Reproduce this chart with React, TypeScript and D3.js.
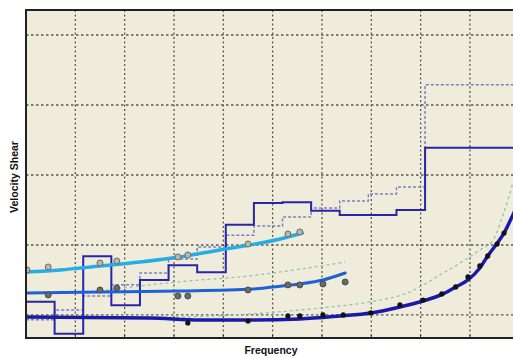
import React from "react";
import * as d3 from "d3";

// Bin edges (frequency units) shared by both step series
const binEdges = [0, 0.58, 1.16, 1.73, 2.31, 2.89, 3.47, 4.05, 4.62, 5.2, 5.78, 6.36, 6.94, 7.51, 8.09, 10.4];
const stepSolid = [1.19, 0.73, 1.84, 1.14, 1.5, 1.71, 1.61, 2.29, 2.6, 2.61, 2.49, 2.43, 2.43, 2.5, 3.39];
const stepDashed = [0.93, 1.07, 1.27, 1.43, 1.6, 1.8, 1.97, 2.14, 2.27, 2.4, 2.53, 2.63, 2.73, 2.83, 4.29];

const cyanX = [0, 0.69, 1.5, 2.31, 3.12, 3.93, 4.54, 5.15, 5.6];
const cyanY = [1.614, 1.643, 1.7, 1.757, 1.829, 1.929, 2.0, 2.086, 2.171];
const cyanPtX = [0.02, 0.45, 1.5, 1.84, 3.08, 3.28, 4.5, 5.31, 5.55];
const cyanPtY = [1.643, 1.686, 1.743, 1.771, 1.829, 1.857, 2.014, 2.157, 2.186];

const midX = [0, 1.5, 3.12, 4.6, 5.0, 5.55, 6.02, 6.47];
const midY = [1.314, 1.329, 1.343, 1.371, 1.4, 1.443, 1.5, 1.6];
const midPtX = [0.45, 1.5, 1.84, 3.08, 3.28, 4.5, 5.31, 5.55, 6.02, 6.47];
const midPtY = [1.286, 1.357, 1.386, 1.271, 1.271, 1.357, 1.429, 1.429, 1.443, 1.471];

const darkX = [0, 2.51, 3.53, 4.54, 5.55, 6.36, 6.99, 7.58, 8.05, 8.41, 8.71, 8.96, 9.2, 9.36, 9.57, 9.69, 9.87, 10.1];
const darkY = [0.971, 0.957, 0.929, 0.929, 0.943, 0.986, 1.029, 1.114, 1.2, 1.286, 1.4, 1.5, 1.671, 1.843, 2.043, 2.171, 2.429, 2.8];
const darkPtX = [3.28, 4.5, 5.31, 5.55, 6.02, 6.43, 6.99, 7.58, 8.05, 8.43, 8.71, 8.96, 9.2, 9.36, 9.55, 9.69];
const darkPtY = [0.886, 0.914, 0.986, 0.986, 1.0, 1.0, 1.029, 1.143, 1.214, 1.3, 1.4, 1.543, 1.7, 1.843, 2.014, 2.171];

const greenUpX = [1.5, 2.31, 3.53, 4.34, 5.15, 6.47];
const greenUpY = [1.343, 1.414, 1.5, 1.543, 1.614, 1.757];
const greenLowX = [2.31, 4.54, 6.16, 6.97, 7.78, 8.39, 8.8, 9.2, 9.47, 9.67, 9.87];
const greenLowY = [0.957, 1.014, 1.114, 1.186, 1.329, 1.571, 1.743, 1.929, 2.071, 2.429, 2.886];

const xGrid = [1, 2, 3, 4, 5, 6, 7, 8, 9];
const yGrid = [1, 2, 3, 4, 5];

const W = 513;
const H = 358;
const L = 26, T = 10, B = 338;

export default function App() {
  const x = d3.scaleLinear().domain([0, 10]).range([L, 519.3]);
  const y = d3.scaleLinear().domain([0.671, 5.357]).range([B, T]);

  const line = d3.line<[number, number]>().x(d => x(d[0])).y(d => y(d[1])).curve(d3.curveMonotoneX);
  const step = d3.line<[number, number]>().x(d => x(d[0])).y(d => y(d[1])).curve(d3.curveStepAfter);

  const zip = (a: number[], b: number[]) => a.map((v, i) => [v, b[i]] as [number, number]);
  const stepPts = (vals: number[]) => {
    const pts = vals.map((v, i) => [binEdges[i], v] as [number, number]);
    pts.push([binEdges[binEdges.length - 1], vals[vals.length - 1]]);
    return pts;
  };

  return (
    <svg width={W} height={H} style={{ position: "absolute", left: 0, top: 0, background: "#fff" }}>
      <defs>
        <clipPath id="plot">
          <rect x={L} y={T} width={W - L} height={B - T} />
        </clipPath>
      </defs>
      <rect x={L} y={T} width={W - L} height={B - T} fill="#efecdc" />
      <g clipPath="url(#plot)">
        {xGrid.map(v => (
          <line key={"gx" + v} x1={x(v)} x2={x(v)} y1={T} y2={B} stroke="#5a5a52" strokeWidth={1.3} strokeDasharray="2,2.5" />
        ))}
        {yGrid.map(v => (
          <line key={"gy" + v} x1={L} x2={W} y1={y(v)} y2={y(v)} stroke="#5a5a52" strokeWidth={1.3} strokeDasharray="2.5,2.5" />
        ))}
        <path d={line(zip(greenUpX, greenUpY)) || ""} fill="none" stroke="#86c4a4" strokeWidth={1.2} strokeDasharray="3,3" />
        <path d={line(zip(greenLowX, greenLowY)) || ""} fill="none" stroke="#86c4a4" strokeWidth={1.2} strokeDasharray="3,3" />
        <path d={step(stepPts(stepDashed)) || ""} fill="none" stroke="#7f7fc4" strokeWidth={1.5} strokeDasharray="3,2" />
        <path d={step(stepPts(stepSolid)) || ""} fill="none" stroke="#2626a6" strokeWidth={2} />
        <path d={line(zip(cyanX, cyanY)) || ""} fill="none" stroke="#26aee4" strokeWidth={3.5} strokeLinecap="round" />
        <path d={line(zip(midX, midY)) || ""} fill="none" stroke="#1e62d6" strokeWidth={3} strokeLinecap="round" />
        <path d={line(zip(darkX, darkY)) || ""} fill="none" stroke="#1a1aa8" strokeWidth={3.5} />
        {zip(cyanPtX, cyanPtY).map((d, i) => (
          <circle key={"c" + i} cx={x(d[0])} cy={y(d[1])} r={3} fill="#b8b8b0" stroke="#6a6a66" strokeWidth={1} />
        ))}
        {zip(midPtX, midPtY).map((d, i) => (
          <circle key={"m" + i} cx={x(d[0])} cy={y(d[1])} r={3} fill="#6a6a6a" stroke="#4a4a4a" strokeWidth={1} />
        ))}
        {zip(darkPtX, darkPtY).map((d, i) => (
          <circle key={"k" + i} cx={x(d[0])} cy={y(d[1])} r={2.6} fill="#111" />
        ))}
      </g>
      {xGrid.map(v => (
        <line key={"t" + v} x1={x(v)} x2={x(v)} y1={B} y2={B - 3} stroke="#333" strokeWidth={1} />
      ))}
      <line x1={L} x2={W} y1={T} y2={T} stroke="#222" strokeWidth={2} />
      <line x1={L} x2={W} y1={B} y2={B} stroke="#222" strokeWidth={2} />
      <line x1={L} x2={L} y1={T - 1} y2={B + 1} stroke="#222" strokeWidth={2} />
      <text x={271} y={354} textAnchor="middle" fontFamily="Liberation Sans, Arial, sans-serif" fontWeight="bold" fontSize={10.5} fill="#111">Frequency</text>
      <text transform={`translate(18,177) rotate(-90)`} textAnchor="middle" fontFamily="Liberation Sans, Arial, sans-serif" fontWeight="bold" fontSize={10.5} fill="#111">Velocity Shear</text>
    </svg>
  );
}
